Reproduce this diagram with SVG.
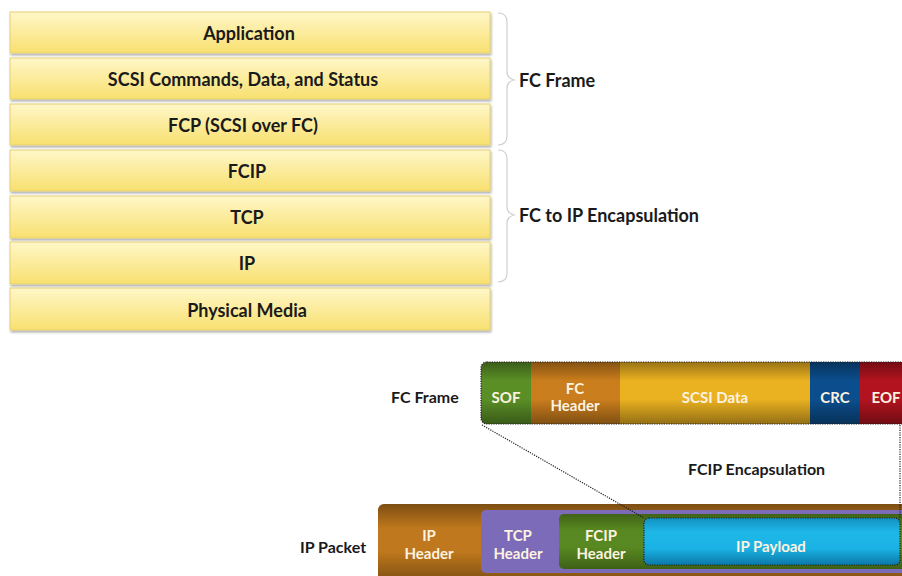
<svg xmlns="http://www.w3.org/2000/svg" width="902" height="576" viewBox="0 0 902 576">
  <defs>
    <linearGradient id="layerFill" x1="0" y1="0" x2="0" y2="1">
      <stop offset="0" stop-color="#fff7c8"/>
      <stop offset="1" stop-color="#f8e070"/>
    </linearGradient>
    <linearGradient id="shade" x1="0" y1="0" x2="0" y2="1">
      <stop offset="0" stop-color="#000" stop-opacity="0.38"/>
      <stop offset="0.3" stop-color="#000" stop-opacity="0.05"/>
      <stop offset="0.6" stop-color="#000" stop-opacity="0.05"/>
      <stop offset="1" stop-color="#000" stop-opacity="0.4"/>
    </linearGradient>
    <linearGradient id="payloadFill" x1="0" y1="0" x2="0" y2="1">
      <stop offset="0" stop-color="#1390c0"/>
      <stop offset="0.3" stop-color="#1eb8e8"/>
      <stop offset="0.65" stop-color="#1ab2e4"/>
      <stop offset="1" stop-color="#0c78a8"/>
    </linearGradient>
    <filter id="drop" x="-5%" y="-20%" width="110%" height="150%">
      <feDropShadow dx="1" dy="2" stdDeviation="1.2" flood-color="#000" flood-opacity="0.3"/>
    </filter>
    <style>
      .layer rect { fill: url(#layerFill); stroke: #e6cf73; stroke-width: 1; filter: url(#drop); }
      .layer text { font-family: Lato, "Liberation Sans", sans-serif; font-weight: bold; font-size: 18px; fill: #1a1a1a; text-anchor: middle; }
      .label { font-family: Lato, "Liberation Sans", sans-serif; font-weight: bold; font-size: 16px; fill: #1a1a1a; }
      .big { font-size: 18px; }
      .seg { font-family: Lato, "Liberation Sans", sans-serif; font-weight: bold; font-size: 15px; fill: #fdf3e0; text-anchor: middle; }
      .brace { fill: none; stroke: #cfcfcf; stroke-width: 1.2; }
      .dots { fill: none; stroke: #1e1e1e; stroke-width: 1.2; stroke-dasharray: 1.2 1.2; }
    </style>
  </defs>

  <!-- protocol stack -->
  <g id="layer-application" class="layer">
    <rect x="10" y="12" width="480" height="41"/>
    <text x="249" y="40">Application</text>
  </g>
  <g id="layer-scsi" class="layer">
    <rect x="10" y="58" width="480" height="41"/>
    <text x="243" y="86">SCSI Commands, Data, and Status</text>
  </g>
  <g id="layer-fcp" class="layer">
    <rect x="10" y="104" width="480" height="41"/>
    <text x="243" y="132">FCP (SCSI over FC)</text>
  </g>
  <g id="layer-fcip" class="layer">
    <rect x="10" y="150" width="480" height="41"/>
    <text x="247" y="178">FCIP</text>
  </g>
  <g id="layer-tcp" class="layer">
    <rect x="10" y="196" width="480" height="42"/>
    <text x="247" y="224">TCP</text>
  </g>
  <g id="layer-ip" class="layer">
    <rect x="10" y="242" width="480" height="42"/>
    <text x="247" y="270">IP</text>
  </g>
  <g id="layer-physical" class="layer">
    <rect x="10" y="288" width="480" height="42"/>
    <text x="247" y="317">Physical Media</text>
  </g>

  <!-- stack groupings -->
  <g id="brace-fc-frame">
    <path class="brace" d="M498,13 Q507,13 507,22 L507,72 Q507,78 514,80 Q507,82 507,88 L507,136 Q507,145 498,145"/>
    <text class="label big" x="519" y="87">FC Frame</text>
  </g>
  <g id="brace-encapsulation">
    <path class="brace" d="M498,150 Q507,150 507,159 L507,207 Q507,213 514,215 Q507,217 507,223 L507,273 Q507,282 498,282"/>
    <text class="label big" x="519" y="222">FC to IP Encapsulation</text>
  </g>

  <!-- FC frame -->
  <g id="fc-frame">
    <text class="label" x="391" y="403">FC Frame</text>
    <clipPath id="frameClip">
      <rect x="481" y="362" width="440" height="62" rx="6"/>
    </clipPath>
    <g clip-path="url(#frameClip)">
      <rect x="481" y="362" width="50" height="62" fill="#5f9628"/>
      <rect x="531" y="362" width="89" height="62" fill="#d4841e"/>
      <rect x="620" y="362" width="190" height="62" fill="#f6ba22"/>
      <rect x="810" y="362" width="50" height="62" fill="#0c5294"/>
      <rect x="860" y="362" width="61" height="62" fill="#bb1420"/>
      <rect x="481" y="362" width="440" height="62" fill="url(#shade)"/>
    </g>
    <rect class="dots" x="481" y="362" width="440" height="62" rx="6"/>
    <text class="seg" x="506" y="403">SOF</text>
    <text class="seg" x="575" y="394">FC</text>
    <text class="seg" x="575" y="411">Header</text>
    <text class="seg" x="715" y="403" fill="#fde9a6">SCSI Data</text>
    <text class="seg" x="835" y="403">CRC</text>
    <text class="seg" x="886" y="403">EOF</text>
  </g>

  <!-- IP packet -->
  <g id="ip-packet">
    <text class="label" x="300" y="553">IP Packet</text>
    <clipPath id="ipClip">
      <rect x="378" y="504" width="540" height="80" rx="6"/>
    </clipPath>
    <g clip-path="url(#ipClip)">
      <rect x="378" y="504" width="540" height="80" fill="#c97e1e"/>
      <rect x="378" y="504" width="540" height="80" fill="url(#shade)"/>
    </g>
    <rect x="481" y="510" width="440" height="63" rx="5" fill="#7b6bb8"/>
    <rect x="559" y="514" width="360" height="55" rx="5" fill="#5c8e22"/>
    <rect x="559" y="514" width="360" height="55" rx="5" fill="url(#shade)" opacity="0.8"/>
    <rect x="644" y="518" width="256" height="47" rx="5" fill="url(#payloadFill)"/>
    <rect class="dots" x="644" y="518" width="256" height="47" rx="5"/>
    <text class="seg" x="429" y="541">IP</text>
    <text class="seg" x="429" y="559">Header</text>
    <text class="seg" x="518" y="541">TCP</text>
    <text class="seg" x="518" y="559">Header</text>
    <text class="seg" x="601" y="541">FCIP</text>
    <text class="seg" x="601" y="559">Header</text>
    <text class="seg" x="771" y="552">IP Payload</text>
  </g>

  <!-- encapsulation connectors, drawn over both bars -->
  <g id="connectors">
    <line class="dots" x1="482" y1="425" x2="644" y2="518"/>
    <line class="dots" x1="900" y1="425" x2="900" y2="518"/>
    <text class="label" x="688" y="475">FCIP Encapsulation</text>
  </g>
</svg>
